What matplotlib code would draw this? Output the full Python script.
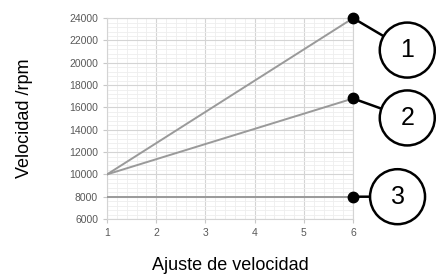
import matplotlib.pyplot as plt
from matplotlib.ticker import MultipleLocator

plt.rcParams['font.family'] = ['Liberation Sans', 'DejaVu Sans']

ajuste = [1, 6]
serie_1 = [10000, 24000]
serie_2 = [10000, 16800]
serie_3 = [8000, 8000]
etiquetas = ["1", "2", "3"]
desplaz = [(39, -23), (39, -14), (32, 0)]

fig = plt.figure(figsize=(4.37, 2.79), dpi=100)
ax = fig.add_axes([0.245, 0.215, 0.563, 0.72])

for serie in (serie_1, serie_2, serie_3):
    ax.plot(ajuste, serie, color="#9a9a9a", lw=1.4, zorder=3)

ax.set_xlim(1, 6)
ax.set_ylim(6000, 24000)
ax.xaxis.set_major_locator(MultipleLocator(1))
ax.xaxis.set_minor_locator(MultipleLocator(0.2))
ax.yaxis.set_major_locator(MultipleLocator(2000))
ax.yaxis.set_minor_locator(MultipleLocator(400))
ax.grid(which="major", color="#d4d4d4", lw=0.8)
ax.grid(which="minor", color="#eeeeee", lw=0.6)
ax.tick_params(which="major", labelsize=7.5, labelcolor="#595959", color="#c8c8c8", length=3)
ax.tick_params(which="minor", length=0)
for s in ax.spines.values():
    s.set_color("#d4d4d4")
    s.set_linewidth(0.8)

for serie, lab, (dx, dy) in zip((serie_1, serie_2, serie_3), etiquetas, desplaz):
    ax.plot(ajuste[-1], serie[-1], "o", color="black", ms=7.5, clip_on=False, zorder=5)
    ax.annotate(lab, xy=(ajuste[-1], serie[-1]), xytext=(dx, dy), textcoords="offset points",
                ha="center", va="center", fontsize=18, annotation_clip=False,
                bbox=dict(boxstyle="circle,pad=0.62", fc="white", ec="black", lw=1.8),
                arrowprops=dict(arrowstyle="-", color="black", lw=1.8, shrinkA=0, shrinkB=0))

ax.set_ylabel("Velocidad /rpm", fontsize=13)
ax.set_xlabel("Ajuste de velocidad", fontsize=13)
ax.yaxis.set_label_coords(-0.30, 0.5)
ax.xaxis.set_label_coords(0.5, -0.19)

fig.savefig("out.png", dpi=100)
